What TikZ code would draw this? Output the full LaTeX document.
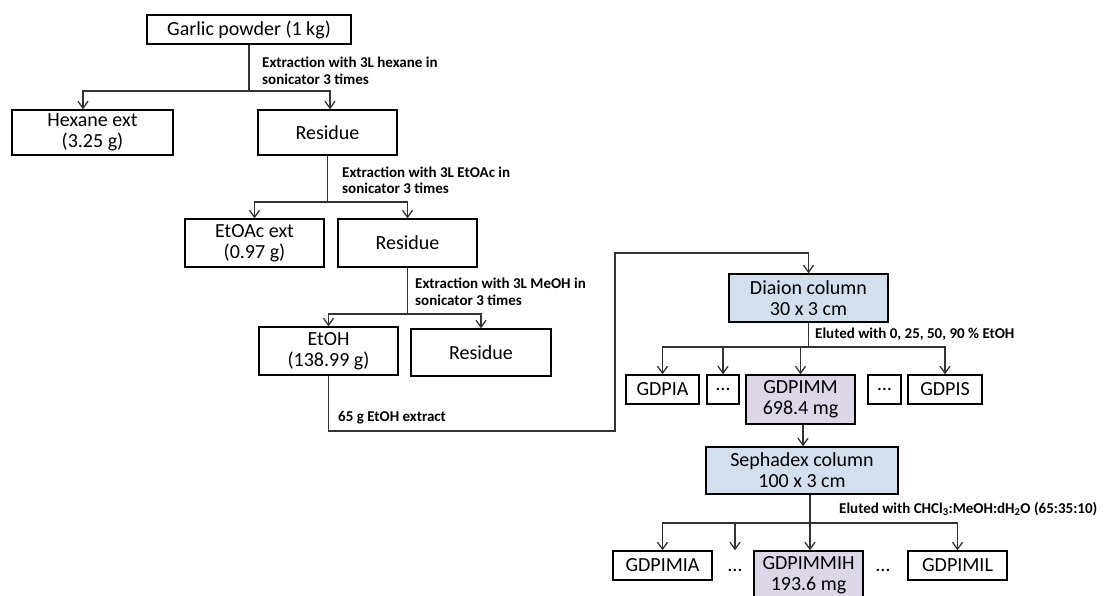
\documentclass[tikz,border=0pt]{standalone}
\usepackage{fontspec}
\setmainfont{Carlito}
\usetikzlibrary{arrows.meta,calc}
\definecolor{boxblue}{HTML}{D3DFEC}
\definecolor{boxlav}{HTML}{DDD6E6}
\begin{document}
\begin{tikzpicture}[x=1pt,y=-1pt,
  box/.style={draw=black, line width=1.3pt, align=center, inner sep=0pt,
    font=\fontsize{20}{21}\selectfont},
  lab/.style={anchor=base west, align=left, inner sep=0pt,
    font=\bfseries\fontsize{15}{17}\selectfont},
  conn/.style={draw=black!80, line width=1.3pt},
  arr/.style={conn, -{Straight Barb[length=7pt,width=10pt]}}]
\useasboundingbox (0,0) rectangle (1116,596);

% boxes
\node[box, minimum width=204pt, minimum height=29pt] (garlic) at (249,29.5) {Garlic powder (1 kg)};
\node[box, minimum width=161pt, minimum height=45pt] (hexane) at (92.5,132.5) {Hexane ext\\(3.25 g)};
\node[box, minimum width=139pt, minimum height=45pt] (res1) at (327.5,132.5) {Residue};
\node[box, minimum width=139pt, minimum height=48pt] (etoac) at (254.5,243) {EtOAc ext\\(0.97 g)};
\node[box, minimum width=139pt, minimum height=48pt] (res2) at (407.5,243) {Residue};
\node[box, minimum width=139pt, minimum height=48pt] (etoh) at (328.5,351) {EtOH\\(138.99 g)};
\node[box, minimum width=140pt, minimum height=47pt] (res3) at (481,352.5) {Residue};
\node[box, fill=boxblue, minimum width=159pt, minimum height=48pt] (diaion) at (808.5,298) {Diaion column\\30 x 3 cm};
\node[box, minimum width=73pt, minimum height=29pt] (gdpia) at (662.5,389.5) {GDPIA};
\node[box, minimum width=32pt, minimum height=29pt] (dots1) at (723,389.5) {…};
\node[box, fill=boxlav, minimum width=109pt, minimum height=49pt] (gdpimm) at (800.5,399.5) {GDPIMM\\698.4 mg};
\node[box, minimum width=33pt, minimum height=29pt] (dots2) at (884.5,389.5) {…};
\node[box, minimum width=74pt, minimum height=29pt] (gdpis) at (945,389.5) {GDPIS};
\node[box, fill=boxblue, minimum width=192pt, minimum height=47pt] (sephadex) at (802,470.5) {Sephadex column\\100 x 3 cm};
\node[box, minimum width=99pt, minimum height=29pt] (gdpimia) at (662.5,565.5) {GDPIMIA};
\node[inner sep=0pt, font=\fontsize{20}{21}\selectfont] (dots3) at (735,570) {…};
\node[box, fill=boxlav, minimum width=109pt, minimum height=49pt] (gdpimmih) at (808.5,575.5) {GDPIMMIH\\193.6 mg};
\node[inner sep=0pt, font=\fontsize{20}{21}\selectfont] (dots4) at (883,570) {…};
\node[box, minimum width=99pt, minimum height=29pt] (gdpimil) at (957.5,565.5) {GDPIMIL};

% labels (base = baseline of the last line)
\node[lab] (l1) at (262,85) {Extraction with 3L hexane in\\sonicator 3 times};
\node[lab] (l2) at (342,194) {Extraction with 3L EtOAc in\\sonicator 3 times};
\node[lab] (l3) at (415,305) {Extraction with 3L MeOH in\\sonicator 3 times};
\node[lab] (l4) at (338,421) {65 g EtOH extract};
\node[lab] (l5) at (815,338) {Eluted with 0, 25, 50, 90 \% EtOH};
\node[lab] (l6) at (839,513) {Eluted with CHCl\textsubscript{3}:MeOH:dH\textsubscript{2}O (65:35:10)};

% connectors
\coordinate (j1) at (249,91);
\draw[conn] (garlic.south) -- (j1);
\draw[arr] (j1) -| ([xshift=-9.5pt]hexane.north);
\draw[arr] (j1) -| ([xshift=2.5pt]res1.north);

\coordinate (j2) at (327.5,202);
\draw[conn] (res1.south) -- (j2);
\draw[arr] (j2) -| (etoac.north);
\draw[arr] (j2) -| (res2.north);

\coordinate (j3) at (407.5,314);
\draw[conn] (res2.south) -- (j3);
\draw[arr] (j3) -| (etoh.north);
\draw[arr] (j3) -| (res3.north);

\coordinate (b1) at (615,431);
\coordinate (b2) at (615,253);
\draw[arr] (etoh.south) |- (b1) -- (b2) -| (diaion.north);

\coordinate (j4) at (808.5,347);
\draw[conn] (diaion.south) -- (j4);
\draw[arr] (j4) -| (gdpia.north);
\draw[arr] (j4) -| (dots1.north);
\draw[arr] (j4) -| (gdpimm.north);
\draw[arr] (j4) -| (gdpis.north);

\draw[arr] ([xshift=2.5pt]gdpimm.south) -- ([xshift=2.5pt]gdpimm.south |- sephadex.north);

\coordinate (j5) at (810,523);
\draw[conn] ([xshift=8pt]sephadex.south) -- (j5);
\draw[arr] (j5) -| (gdpimia.north);
\draw[arr] (j5) -| (dots3.north |- gdpimia.north);
\draw[arr] (j5) -| ([xshift=1.5pt]gdpimmih.north);
\draw[arr] (j5) -| (gdpimil.north);
\end{tikzpicture}
\end{document}
